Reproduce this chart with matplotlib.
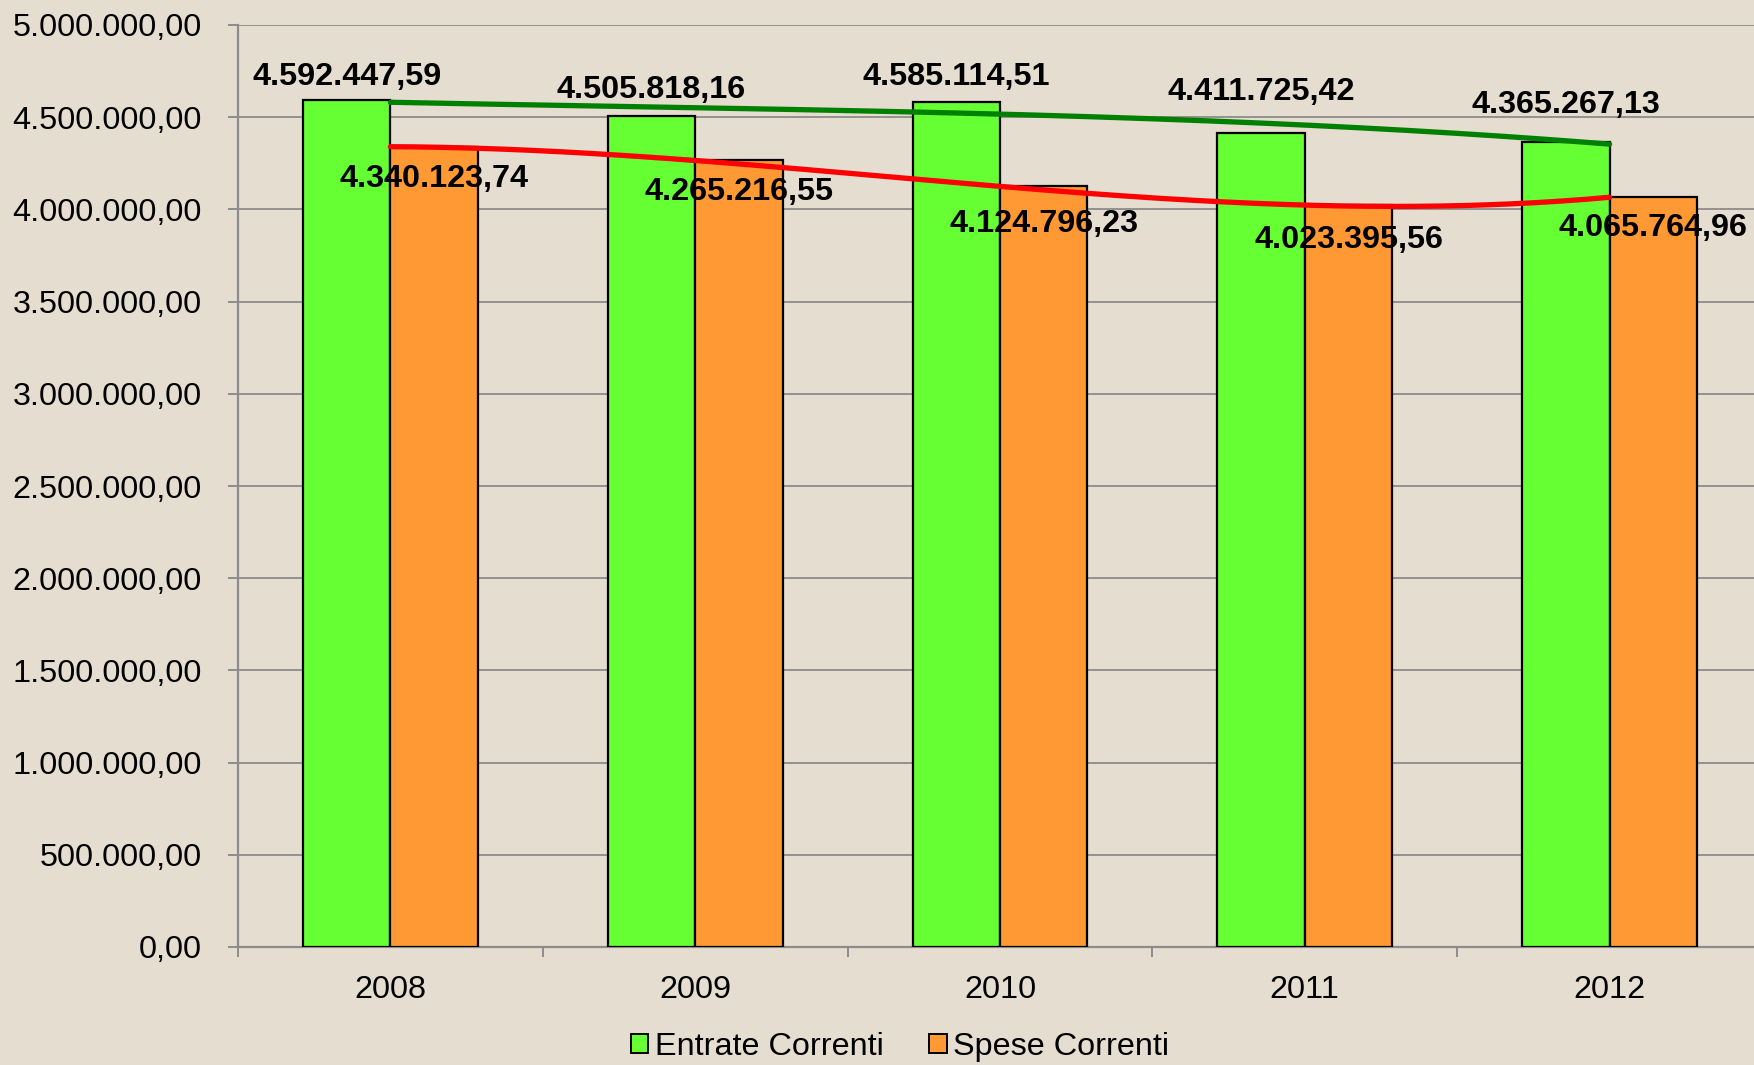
import numpy as np
import matplotlib
matplotlib.use("Agg")
import matplotlib.pyplot as plt
from matplotlib.ticker import FuncFormatter, FixedLocator
from matplotlib.patches import Patch

years = ["2008", "2009", "2010", "2011", "2012"]
entrate = [4592447.59, 4505818.16, 4585114.51, 4411725.42, 4365267.13]
spese = [4340123.74, 4265216.55, 4124796.23, 4023395.56, 4065764.96]

# label offsets in points (manual placement, as in the original)
off_entrate = [17, 19, 18, 30, 27]
off_spese = [-23, -23, -27, -25, -22]


def it_fmt(v, pos=None):
    s = f"{v:,.2f}"
    return s.replace(",", "X").replace(".", ",").replace("X", ".")


plt.rcParams['font.family'] = ['Liberation Sans', 'DejaVu Sans']
bg = '#E4DDD0'
fs = 23.3

fig = plt.figure(figsize=(17.54, 10.65), dpi=100, facecolor=bg)
ax = fig.add_axes([238 / 1754, 118 / 1065, 1524 / 1754, 922 / 1065])
ax.set_facecolor(bg)

x = np.arange(len(years))
w = 0.287
ax.bar(x - w / 2, entrate, w, color='#66FF33', edgecolor='black', lw=1.6,
       zorder=3, label="Entrate Correnti")
ax.bar(x + w / 2, spese, w, color='#FF9933', edgecolor='black', lw=1.6,
       zorder=3, label="Spese Correnti")

# polynomial trend lines (order 3)
xs = np.linspace(0, 4, 200)
ax.plot(xs, np.polyval(np.polyfit(x, entrate, 3), xs), color='#008000',
        lw=3.8, zorder=4, solid_capstyle='round')
ax.plot(xs, np.polyval(np.polyfit(x, spese, 3), xs), color='#FF0000',
        lw=3.8, zorder=4, solid_capstyle='round')

for i in range(len(years)):
    ax.annotate(it_fmt(entrate[i]), (x[i] - w / 2, entrate[i]),
                xytext=(0, off_entrate[i]), textcoords='offset points',
                ha='center', va='center', fontsize=fs, fontweight='bold',
                zorder=6)
    ax.annotate(it_fmt(spese[i]), (x[i] + w / 2, spese[i]),
                xytext=(0, off_spese[i]), textcoords='offset points',
                ha='center', va='center', fontsize=fs, fontweight='bold',
                zorder=6)

ax.set_xlim(-0.5, 4.5)
ax.set_ylim(0, 5000000)
ax.set_yticks(np.arange(0, 5000001, 500000))
ax.yaxis.set_major_formatter(FuncFormatter(it_fmt))
ax.grid(axis='y', color='#8C8C8C', lw=1.3, zorder=0)
ax.set_axisbelow(True)

ax.set_xticks(x)
ax.set_xticklabels(years)
ax.xaxis.set_minor_locator(FixedLocator(np.arange(-0.5, 4.6, 1)))
ax.tick_params(axis='x', which='major', length=0, pad=20, labelsize=fs)
ax.tick_params(axis='x', which='minor', length=7, width=1.4, color='#8C8C8C')
ax.tick_params(axis='y', length=7, width=1.4, color='#8C8C8C', pad=19,
               labelsize=fs)

for s in ['top', 'right']:
    ax.spines[s].set_visible(False)
for s in ['left', 'bottom']:
    ax.spines[s].set_color('#8C8C8C')
    ax.spines[s].set_linewidth(1.6)

handles = [Patch(facecolor='#66FF33', edgecolor='black', lw=1.4),
           Patch(facecolor='#FF9933', edgecolor='black', lw=1.4)]
fig.legend(handles, ["Entrate Correnti", "Spese Correnti"], ncol=2,
           loc='center', bbox_to_anchor=(0.513, 0.017), frameon=False,
           fontsize=fs, handlelength=0.55, handleheight=0.55,
           handletextpad=0.2, columnspacing=1.4, borderpad=0)

fig.savefig("out.png", dpi=100, facecolor=bg)
